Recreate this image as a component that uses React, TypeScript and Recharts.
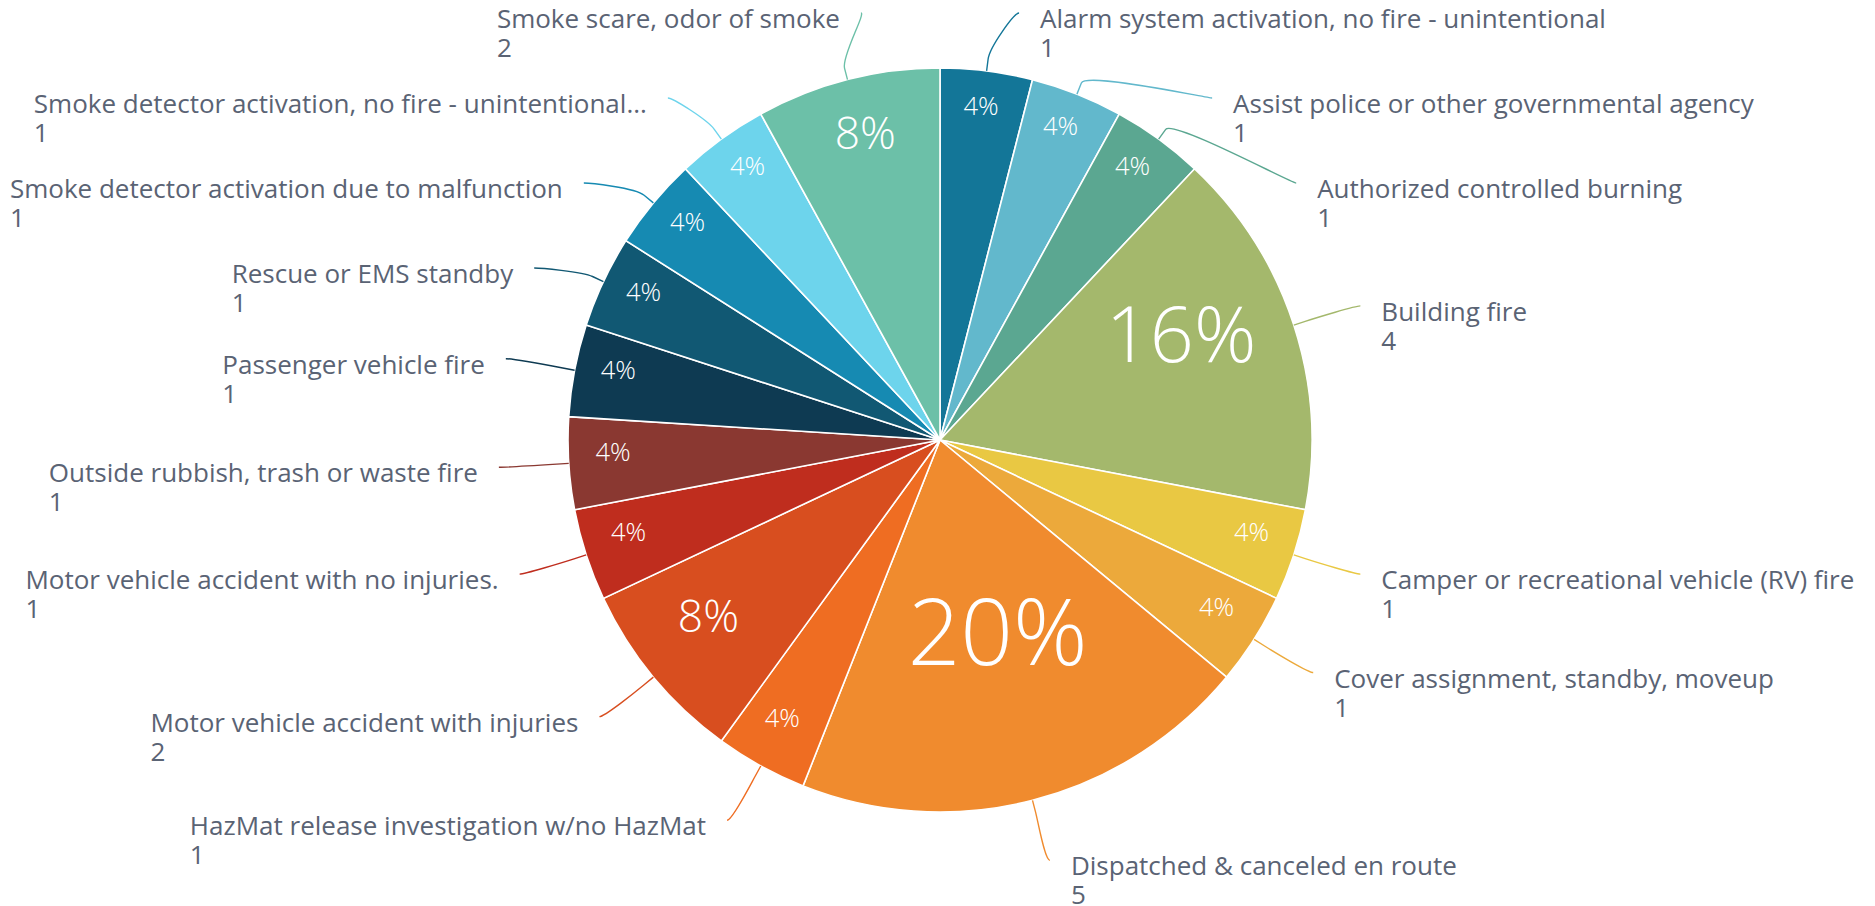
import React from 'react';
import { PieChart, Pie, Cell } from 'recharts';

const categories: string[] = [
  'Alarm system activation, no fire - unintentional',
  'Assist police or other governmental agency',
  'Authorized controlled burning',
  'Building fire',
  'Camper or recreational vehicle (RV) fire',
  'Cover assignment, standby, moveup',
  'Dispatched & canceled en route',
  'HazMat release investigation w/no HazMat',
  'Motor vehicle accident with injuries',
  'Motor vehicle accident with no injuries.',
  'Outside rubbish, trash or waste fire',
  'Passenger vehicle fire',
  'Rescue or EMS standby',
  'Smoke detector activation due to malfunction',
  'Smoke detector activation, no fire - unintentional...',
  'Smoke scare, odor of smoke',
];

const counts: number[] = [1, 1, 1, 4, 1, 1, 5, 1, 2, 1, 1, 1, 1, 1, 1, 2];

const colors: string[] = [
  '#137698',
  '#62b8cc',
  '#5ba791',
  '#a4b86c',
  '#e9c843',
  '#eca93b',
  '#f08b2e',
  '#ef6d22',
  '#d84e1f',
  '#bf2d1e',
  '#8a3831',
  '#0e3a52',
  '#115873',
  '#168ab2',
  '#6dd4ec',
  '#6cc0a8',
];

const data = categories.map((name, i) => ({ name, value: counts[i] }));

const W = 1875;
const H = 906;
const CX = 940;
const CY = 440;
const R = 372;
const FONT = "'Open Sans', sans-serif";
const LABEL_SIZE = 26;
const TEXT_COLOR = '#5a6374';

// label ellipse & spacing
const EA = 442;
const EB = 434;
const SPACING = 85;
const TOP = 13;
const BOTTOM = 870;

let ctx: CanvasRenderingContext2D | null = null;
function measure(t: string): number {
  if (!ctx) ctx = document.createElement('canvas').getContext('2d');
  if (!ctx) return t.length * LABEL_SIZE * 0.55;
  ctx.font = `${LABEL_SIZE}px 'Open Sans'`;
  return ctx.measureText(t).width;
}

type Group = { targets: number[]; start: number };

function clampGroup(g: Group) {
  const span = (g.targets.length - 1) * SPACING;
  g.start = Math.min(Math.max(g.start, TOP), BOTTOM - span);
}

// balanced distribution of colliding labels (groups centred on their targets)
function distribute(targets: number[]): number[] {
  let groups: Group[] = targets.map((t) => {
    const g = { targets: [t], start: t };
    clampGroup(g);
    return g;
  });
  let merged = true;
  while (merged) {
    merged = false;
    for (let i = 0; i < groups.length - 1; i++) {
      const a = groups[i];
      const b = groups[i + 1];
      if (a.start + a.targets.length * SPACING > b.start) {
        const ts = a.targets.concat(b.targets);
        const mean = ts.reduce((x, y) => x + y, 0) / ts.length;
        const g = { targets: ts, start: mean - ((ts.length - 1) * SPACING) / 2 };
        clampGroup(g);
        groups = groups.slice(0, i).concat([g], groups.slice(i + 2));
        merged = true;
        break;
      }
    }
  }
  const out: number[] = [];
  groups.forEach((g) => g.targets.forEach((_, k) => out.push(g.start + k * SPACING)));
  return out;
}

// Pre-compute label vertical positions from the same angles the pie uses
function computeLabelY(): number[] {
  const total = counts.reduce((a, b) => a + b, 0);
  let acc = 0;
  const items = counts.map((v, i) => {
    const mid = ((acc + v / 2) / total) * 360;
    acc += v;
    const th = (mid * Math.PI) / 180;
    return { i, right: mid < 180, y: CY - EB * Math.cos(th) };
  });
  const out: number[] = new Array(counts.length).fill(0);
  [true, false].forEach((side) => {
    const list = items.filter((it) => it.right === side).sort((a, b) => a.y - b.y);
    const ys = distribute(list.map((it) => it.y));
    list.forEach((it, k) => {
      out[it.i] = ys[k];
    });
  });
  return out;
}
const labelY = computeLabelY();

const renderLabel = (props: any) => {
  const { cx, cy, outerRadius, midAngle, index, percent } = props;
  const th = ((90 - midAngle) * Math.PI) / 180;
  const s = Math.sin(th);
  const c = Math.cos(th);
  const right = s >= 0;
  const color = colors[index];

  const touch = { x: cx + outerRadius * s, y: cy - outerRadius * c };
  const brk = { x: cx + (outerRadius + 12) * s, y: cy - (outerRadius + 12) * c };
  const cp2 = { x: 2 * brk.x - touch.x, y: 2 * brk.y - touch.y };
  const ay = labelY[index];
  const dyn = (ay - cy) / EB;
  const ax = cx + (right ? 1 : -1) * EA * Math.sqrt(Math.max(0, 1 - dyn * dyn));
  const cp1 = { x: ax + (right ? -5 : 5), y: ay };
  const d = `M${touch.x},${touch.y}L${brk.x},${brk.y}C${cp2.x},${cp2.y} ${cp1.x},${cp1.y} ${ax},${ay}`;

  const name = categories[index];
  const tx = right ? ax + 21 : ax - 21 - measure(name);

  const pct = Math.round(percent * 100);
  const fs = 25.5 * Math.pow(pct / 4, 0.8);
  const pr = outerRadius - 8 - 1.43 * fs;
  const px = cx + pr * s;
  const py = cy - pr * c;

  return (
    <g key={`lbl-${index}`}>
      <path d={d} stroke={color} strokeWidth={1.4} fill="none" />
      <text fill={TEXT_COLOR} fontSize={LABEL_SIZE} fontFamily={FONT} textAnchor="start">
        <tspan x={tx} y={ay + 15}>{name}</tspan>
        <tspan x={tx} y={ay + 44}>{String(counts[index])}</tspan>
      </text>
      <text x={px} y={py} fill="#ffffff" fontSize={fs} fontFamily={FONT} fontWeight={350} textAnchor="middle">
        {`${pct}%`}
      </text>
    </g>
  );
};

export default function App() {
  return (
    <div style={{ position: 'absolute', left: 0, top: 0, width: W, height: H, background: '#fff' }}>
      <PieChart width={W} height={H} margin={{ top: 0, right: 0, bottom: 0, left: 0 }}>
        <Pie
          data={data}
          dataKey="value"
          nameKey="name"
          cx={CX}
          cy={CY}
          outerRadius={R}
          innerRadius={0}
          startAngle={90}
          endAngle={-270}
          stroke="#ffffff"
          strokeWidth={1.6}
          label={renderLabel}
          labelLine={false}
          isAnimationActive={false}
        >
          {data.map((d, i) => (
            <Cell key={d.name} fill={colors[i]} />
          ))}
        </Pie>
      </PieChart>
    </div>
  );
}
